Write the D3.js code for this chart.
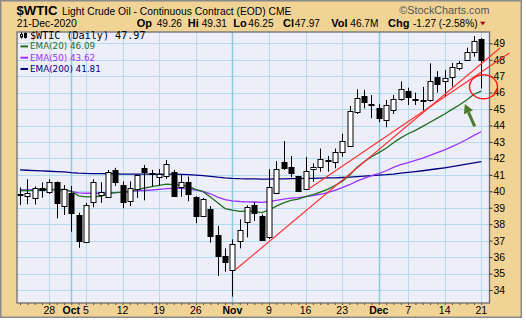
<!DOCTYPE html>
<html>
<head>
<meta charset="utf-8">
<script src="https://cdn.jsdelivr.net/npm/d3@7"></script>
<style>
html, body { margin: 0; padding: 0; background: #fff; }
svg { display: block; font-family: "Liberation Sans", Arial, sans-serif; }
</style>
</head>
<body>
<svg id="chart"></svg>
<script>
// trading days shown on the chart
const dates = [
	'2020-09-22', '2020-09-23', '2020-09-24', '2020-09-25', '2020-09-28', '2020-09-29', '2020-09-30',
	'2020-10-01', '2020-10-02', '2020-10-05', '2020-10-06', '2020-10-07', '2020-10-08', '2020-10-09',
	'2020-10-12', '2020-10-13', '2020-10-14', '2020-10-15', '2020-10-16', '2020-10-19', '2020-10-20',
	'2020-10-21', '2020-10-22', '2020-10-23', '2020-10-26', '2020-10-27', '2020-10-28', '2020-10-29',
	'2020-10-30', '2020-11-02', '2020-11-03', '2020-11-04', '2020-11-05', '2020-11-06', '2020-11-09',
	'2020-11-10', '2020-11-11', '2020-11-12', '2020-11-13', '2020-11-16', '2020-11-17', '2020-11-18',
	'2020-11-19', '2020-11-20', '2020-11-23', '2020-11-24', '2020-11-25', '2020-11-27', '2020-11-30',
	'2020-12-01', '2020-12-02', '2020-12-03', '2020-12-04', '2020-12-07', '2020-12-08', '2020-12-09',
	'2020-12-10', '2020-12-11', '2020-12-14', '2020-12-15', '2020-12-16', '2020-12-17', '2020-12-18',
	'2020-12-21'
];

const opens = [39.85, 39.71, 39.57, 40.18, 39.98, 40.55, 39.11, 39.92, 38.56, 36.94, 39.33, 39.75, 39.67, 41.30,
	40.38, 39.43, 40.12, 41.40, 41.05, 40.85, 40.93, 41.15, 40.24, 40.58, 39.67, 38.52, 38.92, 37.34,
	36.07, 35.22, 36.98, 38.12, 39.17, 38.52, 37.24, 39.88, 41.80, 41.45, 40.93, 40.12, 41.35, 41.50,
	41.85, 41.80, 42.41, 42.77, 44.84, 45.79, 45.30, 45.04, 44.33, 44.94, 45.59, 46.10, 45.62, 45.58,
	45.55, 46.94, 46.70, 46.94, 47.48, 47.98, 48.49, 49.26];
const highs = [40.24, 40.73, 40.30, 40.55, 40.73, 40.60, 40.38, 40.32, 38.70, 39.30, 40.73, 40.55, 41.30, 41.43,
	40.60, 40.60, 41.04, 41.60, 41.30, 41.35, 41.90, 41.30, 40.99, 40.90, 39.70, 39.60, 39.10, 37.90,
	36.53, 37.08, 38.30, 39.15, 39.35, 38.60, 41.34, 41.84, 43.06, 42.15, 40.93, 42.10, 41.70, 42.60,
	42.15, 42.60, 43.50, 45.19, 46.20, 46.16, 45.85, 45.30, 45.55, 45.85, 46.68, 46.30, 46.00, 46.35,
	47.78, 47.30, 47.37, 47.80, 47.92, 48.73, 49.44, 49.31];
const lows = [39.17, 39.21, 39.20, 39.61, 39.84, 38.36, 38.56, 37.54, 36.57, 36.90, 39.03, 39.30, 39.67, 40.33,
	38.97, 39.10, 39.60, 39.45, 40.30, 40.35, 40.75, 39.65, 39.67, 39.40, 38.06, 38.45, 36.88, 34.85,
	35.11, 33.60, 36.53, 37.20, 38.20, 36.98, 37.10, 39.88, 41.30, 40.85, 39.95, 40.12, 40.58, 41.19,
	41.19, 41.40, 42.10, 42.77, 44.70, 45.04, 44.44, 44.20, 43.89, 44.70, 45.50, 45.25, 45.25, 44.90,
	45.45, 46.00, 45.75, 46.36, 47.35, 47.95, 48.18, 46.25];
const closes = [39.80, 39.88, 40.22, 40.06, 40.55, 39.27, 40.14, 38.66, 37.00, 39.17, 40.58, 39.95, 41.15, 40.55,
	39.37, 40.18, 40.99, 41.15, 41.10, 41.03, 41.66, 39.71, 40.58, 39.82, 38.52, 39.51, 37.30, 36.09,
	35.72, 36.78, 37.63, 39.07, 38.66, 37.04, 40.24, 41.34, 41.40, 41.10, 40.03, 41.25, 41.45, 41.95,
	41.90, 42.41, 43.06, 44.88, 45.65, 45.45, 45.22, 44.44, 45.25, 45.59, 46.20, 45.71, 45.58, 45.52,
	46.73, 46.52, 46.91, 47.58, 47.78, 48.49, 49.16, 47.97];

const ema20 = [40.05, 40.05, 40.06, 40.08, 40.12, 40.10, 40.12, 40.00, 39.72, 39.66, 39.68, 39.70, 39.84, 39.92,
	39.95, 39.98, 40.10, 40.20, 40.28, 40.36, 40.44, 40.40, 40.38, 40.30, 40.12, 39.98, 39.65, 39.30,
	38.95, 38.85, 38.78, 38.80, 38.78, 38.70, 38.85, 39.10, 39.30, 39.45, 39.52, 39.68, 39.80, 39.95,
	40.12, 40.35, 40.60, 40.98, 41.45, 41.80, 42.10, 42.35, 42.62, 42.95, 43.25, 43.50, 43.70, 43.95,
	44.20, 44.45, 44.70, 44.98, 45.25, 45.55, 45.90, 46.09];
const ema50 = [40.08, 40.09, 40.10, 40.11, 40.12, 40.10, 40.08, 40.00, 39.90, 39.88, 39.88, 39.88, 39.90, 39.92,
	39.94, 39.98, 40.02, 40.05, 40.08, 40.12, 40.16, 40.18, 40.18, 40.15, 40.08, 40.00, 39.85, 39.65,
	39.50, 39.42, 39.38, 39.36, 39.35, 39.33, 39.38, 39.45, 39.52, 39.58, 39.62, 39.68, 39.74, 39.82,
	39.92, 40.05, 40.22, 40.40, 40.62, 40.78, 40.95, 41.08, 41.25, 41.45, 41.62, 41.75, 41.88, 42.02,
	42.18, 42.35, 42.52, 42.72, 42.92, 43.15, 43.40, 43.62];
const ema200 = [41.30, 41.28, 41.26, 41.24, 41.22, 41.20, 41.18, 41.14, 41.11, 41.09, 41.08, 41.07, 41.07, 41.06,
	41.05, 41.05, 41.05, 41.05, 41.05, 41.04, 41.04, 41.04, 41.03, 41.01, 40.98, 40.95, 40.91, 40.86,
	40.82, 40.79, 40.77, 40.76, 40.75, 40.74, 40.74, 40.75, 40.76, 40.77, 40.77, 40.78, 40.79, 40.80,
	40.81, 40.82, 40.84, 40.86, 40.89, 40.92, 40.95, 40.98, 41.01, 41.05, 41.10, 41.15, 41.20, 41.25,
	41.31, 41.37, 41.43, 41.50, 41.57, 41.65, 41.73, 41.81];

const tickDates = ['2020-09-28', '2020-10-01', '2020-10-05', '2020-10-12', '2020-10-19', '2020-10-26', '2020-11-02',
	'2020-11-09', '2020-11-16', '2020-11-23', '2020-12-01', '2020-12-07', '2020-12-14', '2020-12-21'];
const tickLabels = ['28', 'Oct', '5', '12', '19', '26', 'Nov', '9', '16', '23', 'Dec', '7', '14', '21'];
const monthLabels = ['Oct', 'Nov', 'Dec'];
const priceTicks = d3.range(34, 50);

// hand drawn annotations, as [day index, price]
const trendLines = [
	[[29.5, 35.26], [65.56, 48.71]],
	[[39.37, 40.12], [66.83, 48.41]]
];
const circleAt = [63.3, 46.36];
const arrowFrom = [62.1, 43.95];
const arrowTo = [60.75, 45.3];

const W = 526, H = 322;
const plot = {left: 17, right: 489.5, top: 32, bottom: 303};

const svg = d3.select('#chart').attr('width', W).attr('height', H);

// day index -> x, kept linear so the trend lines can run past the last bar
const xi = d3.scaleLinear().domain([0, dates.length - 1]).range([20, 481.3]);
const x = d => xi(dates.indexOf(d));
const y = d3.scaleLinear().domain([34, 49]).range([290, 43.25]);
const crisp = v => Math.round(v) + 0.5;

// frame
svg.append('rect')
	.attr('x', 0.75).attr('y', 0.75).attr('width', 520.5).attr('height', 316.5)
	.attr('fill', '#f1d396').attr('stroke', '#8a8a8a').attr('stroke-width', 1.5);

svg.append('rect')
	.attr('x', plot.left).attr('y', plot.top)
	.attr('width', plot.right - plot.left).attr('height', plot.bottom - plot.top)
	.attr('fill', '#eeeef8');

// grid
const grid = svg.append('g');
grid.selectAll('.hg')
	.data(priceTicks)
	.enter().append('line')
	.attr('x1', plot.left).attr('x2', plot.right)
	.attr('y1', d => crisp(y(d))).attr('y2', d => crisp(y(d)))
	.attr('stroke', '#b3ddec').attr('stroke-width', 1);

grid.selectAll('.vg')
	.data(tickDates)
	.enter().append('line')
	.attr('x1', d => crisp(x(d))).attr('x2', d => crisp(x(d)))
	.attr('y1', plot.top).attr('y2', plot.bottom)
	.attr('stroke', (d, i) => monthLabels.includes(tickLabels[i]) ? '#8ccbe6' : '#b3ddec')
	.attr('stroke-width', (d, i) => monthLabels.includes(tickLabels[i]) ? 1.5 : 1);

// moving averages
const line = d3.line().x((d, i) => xi(i)).y(d => y(d));
[[ema200, '#00007f'], [ema50, '#9933ff'], [ema20, '#1f6f1f']].forEach(([vals, col]) => {
	svg.append('path')
		.datum(vals)
		.attr('d', line)
		.attr('fill', 'none')
		.attr('stroke', col)
		.attr('stroke-width', 1.3);
});

// candles
const candles = svg.append('g');
dates.forEach((d, i) => {
	const cx = crisp(x(d));
	candles.append('line')
		.attr('x1', cx).attr('x2', cx)
		.attr('y1', y(highs[i])).attr('y2', y(lows[i]))
		.attr('stroke', '#000').attr('stroke-width', 1);
	const top = Math.round(y(Math.max(opens[i], closes[i])));
	const bot = Math.round(y(Math.min(opens[i], closes[i])));
	candles.append('rect')
		.attr('x', cx - 2.5).attr('y', top + 0.5)
		.attr('width', 5).attr('height', Math.max(bot - top, 1))
		.attr('fill', closes[i] >= opens[i] ? '#fff' : '#000')
		.attr('stroke', '#000').attr('stroke-width', 1);
});

// plot border
svg.append('rect')
	.attr('x', plot.left).attr('y', plot.top)
	.attr('width', plot.right - plot.left).attr('height', plot.bottom - plot.top)
	.attr('fill', 'none').attr('stroke', '#6e6e6e').attr('stroke-width', 1.3);

// axes
const yAxis = svg.append('g')
	.attr('transform', `translate(${plot.right},0)`)
	.call(d3.axisRight(y).tickValues(priceTicks).tickSize(3).tickPadding(1));
yAxis.select('.domain').remove();
yAxis.selectAll('line').attr('stroke', '#333');
yAxis.selectAll('text').attr('font-size', 10.5).attr('font-family', '"Liberation Sans", Arial, sans-serif').attr('fill', '#000');

const xAxis = svg.append('g')
	.attr('transform', `translate(0,${plot.bottom})`)
	.call(d3.axisBottom(xi).tickValues(d3.range(dates.length)).tickSize(2).tickFormat(''));
xAxis.select('.domain').remove();
xAxis.selectAll('line').attr('stroke', '#555');

svg.append('g').selectAll('text')
	.data(tickDates)
	.enter().append('text')
	.attr('x', d => x(d))
	.attr('y', 313.5)
	.attr('text-anchor', 'middle')
	.attr('font-size', 10.5)
	.attr('font-weight', (d, i) => monthLabels.includes(tickLabels[i]) ? 'bold' : 'normal')
	.text((d, i) => tickLabels[i]);

// trend lines, circle and arrow
svg.append('g').selectAll('line')
	.data(trendLines)
	.enter().append('line')
	.attr('x1', d => xi(d[0][0])).attr('y1', d => y(d[0][1]))
	.attr('x2', d => xi(d[1][0])).attr('y2', d => y(d[1][1]))
	.attr('stroke', '#ff2e2e').attr('stroke-width', 1.1);

svg.append('ellipse')
	.attr('cx', xi(circleAt[0])).attr('cy', y(circleAt[1]))
	.attr('rx', 14).attr('ry', 12)
	.attr('fill', 'none').attr('stroke', '#ff1a1a').attr('stroke-width', 1.4);

const ax0 = xi(arrowFrom[0]), ay0 = y(arrowFrom[1]);
const ax1 = xi(arrowTo[0]), ay1 = y(arrowTo[1]);
const ang = Math.atan2(ay1 - ay0, ax1 - ax0);
const headLen = 9, headW = 5;
const bx = ax1 - headLen * Math.cos(ang), by = ay1 - headLen * Math.sin(ang);
svg.append('line')
	.attr('x1', ax0).attr('y1', ay0).attr('x2', bx).attr('y2', by)
	.attr('stroke', '#4b7a2b').attr('stroke-width', 3);
svg.append('path')
	.attr('d', `M${ax1},${ay1}L${bx + headW * Math.sin(ang)},${by - headW * Math.cos(ang)}L${bx - headW * Math.sin(ang)},${by + headW * Math.cos(ang)}Z`)
	.attr('fill', '#4b7a2b');

// legend
const lg = svg.append('g');
lg.append('line').attr('x1', 21.5).attr('x2', 21.5).attr('y1', 32.5).attr('y2', 38.5).attr('stroke', '#000');
lg.append('rect').attr('x', 20.5).attr('y', 34.5).attr('width', 2).attr('height', 2.5).attr('fill', '#fff').attr('stroke', '#000');
lg.append('line').attr('x1', 25.5).attr('x2', 25.5).attr('y1', 32.5).attr('y2', 38.5).attr('stroke', '#000');
lg.append('rect').attr('x', 24.5).attr('y', 33.5).attr('width', 2).attr('height', 4).attr('fill', '#000').attr('stroke', '#000');
lg.append('text')
	.attr('x', 30).attr('y', 39.2)
	.attr('font-family', '"DejaVu Sans Mono", monospace').attr('font-size', 10.1)
	.text(`$WTIC (Daily) ${closes[closes.length - 1].toFixed(2)}`);

const legendRows = [
	['EMA(20)', ema20, '#1f6f1f'],
	['EMA(50)', ema50, '#9933ff'],
	['EMA(200)', ema200, '#00007f']
];
legendRows.forEach(([name, vals, col], k) => {
	const by0 = 49.4 + k * 11.3;
	lg.append('line')
		.attr('x1', 20.5).attr('x2', 28).attr('y1', by0 - 3).attr('y2', by0 - 3)
		.attr('stroke', col).attr('stroke-width', 2);
	lg.append('text')
		.attr('x', 30).attr('y', by0)
		.attr('font-family', '"DejaVu Sans", Verdana, sans-serif').attr('font-size', 8.8)
		.attr('fill', col)
		.text(`${name} ${vals[vals.length - 1].toFixed(2)}`);
});

// header
const hd = svg.append('g');
hd.append('text').attr('x', 16.5).attr('y', 15).attr('font-size', 13.2).attr('font-weight', 'bold').text('$WTIC');
hd.append('text').attr('x', 62).attr('y', 14.5).attr('font-size', 10.3).text('Light Crude Oil - Continuous Contract (EOD) CME');
hd.append('text').attr('x', 489.5).attr('y', 14).attr('font-size', 10.8).attr('fill', '#555').attr('text-anchor', 'end').text('\u00a9StockCharts.com');
hd.append('text').attr('x', 16.7).attr('y', 26.7).attr('font-size', 10.4).text('21-Dec-2020');

const quote = [
	['Op', opens[opens.length - 1].toFixed(2), 136.7, 156.7],
	['Hi', highs[highs.length - 1].toFixed(2), 187.7, 201.7],
	['Lo', lows[lows.length - 1].toFixed(2), 233.3, 248.3],
	['Cl', closes[closes.length - 1].toFixed(2), 283, 294.7],
	['Vol', '46.7M', 331.3, 350.3],
	['Chg', '-1.27 (-2.58%)', 388, 413]
];
quote.forEach(([lab, val, lx, vx]) => {
	hd.append('text').attr('x', lx).attr('y', 26.7).attr('font-size', 11).attr('font-weight', 'bold').text(lab);
	hd.append('text').attr('x', vx).attr('y', 26.7).attr('font-size', 10.1).text(val);
});
hd.append('path').attr('d', 'M480,21.8L485.5,21.8L482.75,25.3Z').attr('fill', '#a0001c');
</script>
</body>
</html>
